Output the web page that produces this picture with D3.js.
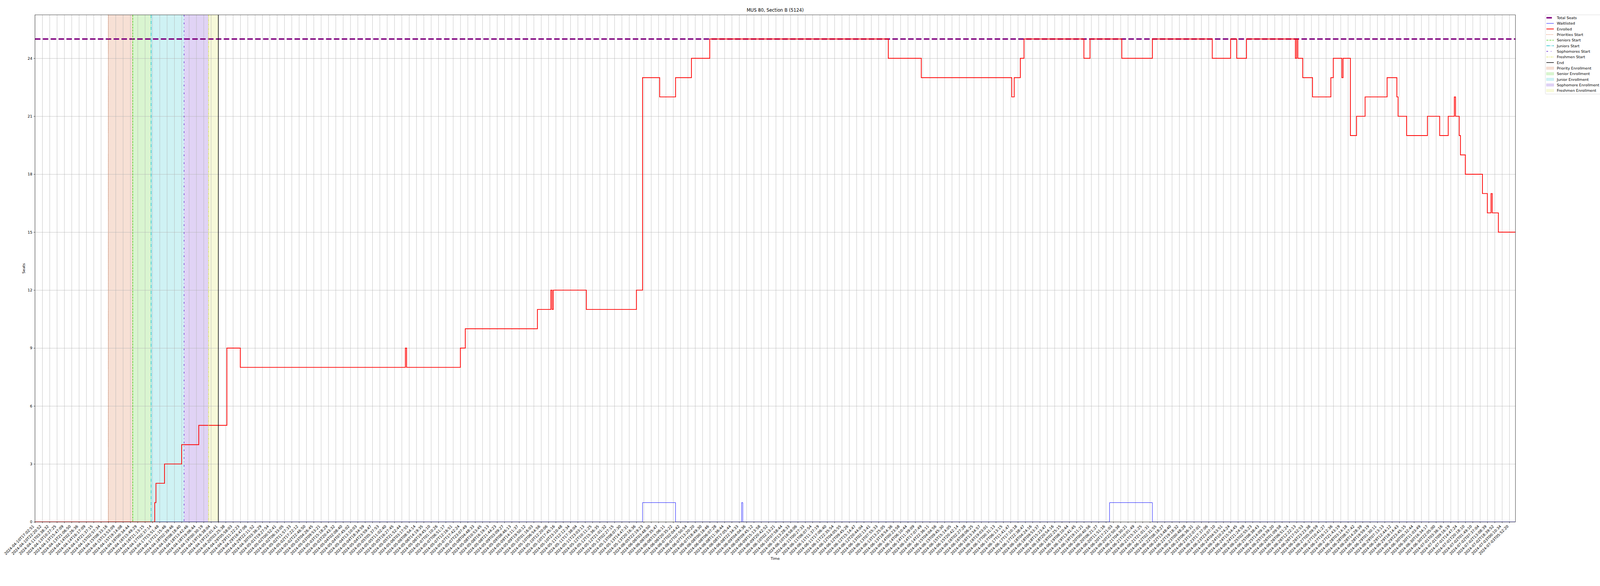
<!DOCTYPE html>
<html>
<head>
<meta charset="utf-8">
<script src="https://cdn.jsdelivr.net/npm/d3@7"></script>
<style>
  html, body { margin: 0; padding: 0; background: #fff; overflow: hidden; }
  #chart svg { display: block; width: 100vw; height: 100vh; }
  text { font-family: "DejaVu Sans", sans-serif; }
</style>
</head>
<body>
<div id="chart"></div>
<script>
// tick labels, one every 6 samples
const tickLabels = [
  "2024-04-10T17:02:51","2024-04-10T22:20:52","2024-04-11T03:38:32","2024-04-13T10:27:25","2024-04-13T15:47:09",
  "2024-04-13T21:06:50","2024-04-14T02:26:36","2024-04-14T16:17:09","2024-04-14T21:37:15","2024-04-15T02:57:34",
  "2024-04-15T08:33:16","2024-04-15T13:53:09","2024-04-15T19:14:08","2024-04-16T00:34:44","2024-04-16T15:49:29",
  "2024-04-16T21:13:15","2024-04-17T02:37:14","2024-04-17T15:51:48","2024-04-17T21:15:46","2024-04-18T02:39:46",
  "2024-04-18T08:18:40","2024-04-18T13:42:46","2024-04-18T19:06:44","2024-04-19T00:30:19","2024-04-19T16:38:04",
  "2024-04-19T22:01:41","2024-04-20T03:25:38","2024-04-29T05:58:03","2024-04-29T11:22:23","2024-04-29T16:47:06",
  "2024-04-29T22:11:52","2024-04-30T03:36:29","2024-05-01T19:27:54","2024-05-02T00:52:41","2024-05-02T06:33:05",
  "2024-05-02T11:57:33","2024-05-02T17:22:12","2024-05-02T22:46:50","2024-05-03T04:26:45","2024-05-03T09:53:21",
  "2024-05-03T15:18:29","2024-05-03T20:43:32","2024-05-04T02:08:40","2024-05-04T07:45:02","2024-05-04T13:10:03",
  "2024-05-04T18:34:59","2024-05-04T23:59:47","2024-05-05T05:37:53","2024-05-05T11:02:40","2024-05-05T16:27:45",
  "2024-05-05T21:52:44","2024-05-06T03:17:55","2024-05-06T08:54:14","2024-05-06T14:19:35","2024-05-06T19:45:10",
  "2024-05-07T01:10:26","2024-05-07T06:51:17","2024-05-07T12:16:51","2024-05-07T17:42:24","2024-05-07T23:07:49",
  "2024-05-08T04:48:33","2024-05-08T10:53:45","2024-05-08T16:19:13","2024-05-08T21:44:23","2024-05-09T03:09:27",
  "2024-05-09T08:46:13","2024-05-09T14:11:37","2024-05-09T19:50:12","2024-05-10T01:16:03","2024-05-10T06:54:56",
  "2024-05-10T12:20:06","2024-05-10T17:45:16","2024-05-10T23:10:48","2024-05-11T12:12:34","2024-05-11T17:38:04",
  "2024-05-11T23:03:13","2024-05-12T10:11:25","2024-05-12T15:36:35","2024-05-12T21:01:32","2024-05-13T02:27:15",
  "2024-05-13T08:07:30","2024-05-13T14:47:31","2024-05-13T20:16:36","2024-06-05T22:19:23","2024-06-06T03:48:50",
  "2024-06-06T09:35:47","2024-06-06T15:06:11","2024-06-06T20:35:22","2024-06-07T02:04:42","2024-06-07T07:50:54",
  "2024-06-07T13:20:20","2024-06-07T18:49:30","2024-06-08T00:18:46","2024-06-08T06:07:28","2024-06-08T11:36:44",
  "2024-06-08T17:05:44","2024-06-08T22:34:33","2024-06-09T04:04:36","2024-06-09T09:45:12","2024-06-09T15:13:58",
  "2024-06-09T20:42:52","2024-06-10T02:13:21","2024-06-10T07:58:44","2024-06-10T13:28:33","2024-06-10T18:58:06",
  "2024-06-11T00:27:33","2024-06-11T06:07:54","2024-06-11T11:37:19","2024-06-11T17:06:40","2024-06-11T22:35:54",
  "2024-06-12T04:05:55","2024-06-12T09:45:26","2024-06-12T15:14:47","2024-06-12T20:44:04","2024-06-13T02:13:41",
  "2024-06-13T07:55:33","2024-06-13T13:25:05","2024-06-13T18:54:36","2024-06-14T00:23:58","2024-06-14T06:10:44",
  "2024-06-14T11:39:09","2024-06-14T17:07:49","2024-06-14T22:36:11","2024-06-15T04:04:56","2024-06-15T09:45:30",
  "2024-06-15T15:14:05","2024-06-15T20:42:14","2024-06-16T02:27:28","2024-06-16T08:06:25","2024-06-16T13:34:57",
  "2024-06-16T19:03:01","2024-06-17T00:31:13","2024-06-17T06:13:15","2024-06-17T11:41:47","2024-06-17T17:10:18",
  "2024-06-17T22:38:47","2024-06-18T04:24:16","2024-06-18T09:53:37","2024-06-18T15:23:47","2024-06-18T20:54:16",
  "2024-06-19T02:25:15","2024-06-19T08:10:44","2024-06-19T13:41:45","2024-06-19T19:11:21","2024-06-20T00:40:56",
  "2024-06-20T06:21:27","2024-06-20T11:51:16","2024-06-20T17:21:03","2024-06-20T22:50:38","2024-06-21T04:30:21",
  "2024-06-21T10:01:49","2024-06-21T15:31:25","2024-06-21T21:01:31","2024-06-22T02:31:55","2024-06-22T08:18:27",
  "2024-06-22T13:48:40","2024-06-22T19:18:32","2024-06-23T00:48:28","2024-06-23T06:36:31","2024-06-23T12:07:01",
  "2024-06-23T17:37:06","2024-06-23T23:07:10","2024-06-24T04:53:51","2024-06-24T10:24:24","2024-06-24T15:54:45",
  "2024-06-24T21:24:59","2024-06-25T02:55:23","2024-06-25T08:38:43","2024-06-25T14:09:15","2024-06-25T19:39:20",
  "2024-06-26T01:09:58","2024-06-26T06:51:24","2024-06-26T12:22:13","2024-06-26T17:52:53","2024-06-26T23:23:38",
  "2024-06-27T05:09:59","2024-06-27T10:41:27","2024-06-27T16:12:36","2024-06-27T21:43:19","2024-06-28T03:14:18",
  "2024-06-28T08:57:42","2024-06-28T14:28:39","2024-06-28T19:59:19","2024-06-29T01:30:11","2024-06-29T07:13:13",
  "2024-06-29T12:44:12","2024-06-29T18:14:43","2024-06-29T23:45:15","2024-06-30T05:32:44","2024-06-30T11:03:49",
  "2024-06-30T16:34:17","2024-06-30T22:05:00","2024-07-01T03:36:16","2024-07-01T09:16:19","2024-07-01T14:47:24",
  "2024-07-01T20:18:10","2024-07-02T01:49:10","2024-07-02T07:37:04","2024-07-02T13:08:39","2024-07-02T18:39:52",
  "2024-07-03T00:10:34","2024-07-03T05:52:20"
];
const samplesPerTick = 6;
const sampleCount = 1212;
const totalSeats = 25;
const yTicks = [0, 3, 6, 9, 12, 15, 18, 21, 24];

// [sample index, value] at each change
const enrolledSteps = [
  [0,0],[98,1],[99,2],[106,3],[120,4],[134,5],[157,9],[168,8],[303,9],[304,8],[348,9],[352,10],
  [411,11],[422,12],[423,11],[424,12],[451,11],[492,12],[497,23],[511,22],[524,23],[537,24],[552,25],
  [698,24],[725,23],[799,22],[801,23],[806,24],[809,25],[858,24],[863,25],[889,24],[914,25],[963,24],
  [978,25],[983,24],[991,25],[1031,24],[1032,25],[1033,24],[1037,23],[1045,22],[1060,23],[1062,24],
  [1069,23],[1070,24],[1076,20],[1081,21],[1088,22],[1106,23],[1114,22],[1115,21],[1122,20],[1139,21],
  [1149,20],[1156,21],[1161,22],[1162,21],[1165,20],[1166,19],[1170,18],[1184,17],[1188,16],[1191,17],
  [1192,16],[1197,15]
];
const waitlistedSteps = [[0,0],[497,1],[524,0],[578,1],[579,0],[879,1],[914,0]];

// enrollment phases (sample index of start)
const phaseStartNames = ["Priorities Start", "Seniors Start", "Juniors Start", "Sophomores Start", "Freshmen Start"];
const phaseSpanNames = ["Priority Enrollment", "Senior Enrollment", "Junior Enrollment", "Sophomore Enrollment", "Freshmen Enrollment"];
const phaseStarts = [60, 80, 95, 122, 142];
const phaseEnd = 150;
const phaseColors = ["#d9652f", "#41cc14", "#0fbec8", "#6423cd", "#d7e141"];
const phaseDashes = ["2.1,3.4", "7.7,3.3", "13.3,3.3,2.1,3.3", "6.2,10.4,2.1,10.4", "6.2,2.1,2.1,2.1,2.1,2.1"];

// figure is 6000 wide; height follows the window so the axes keep their figure fractions
const W = 6000;
const vw = window.innerWidth || 6000, vh = window.innerHeight || 1500;
const H = Math.max(1500, W * vh / vw);
const margin = { left: 131, right: W - 5683, top: H * 38 / 1500, bottom: H - H * 1336 / 1500 };
const pw = W - margin.left - margin.right;
const ph = H - margin.top - margin.bottom;

const svg = d3.select("#chart").append("svg")
  .attr("viewBox", `0 0 ${W} ${H}`)
  .attr("preserveAspectRatio", "xMinYMin meet");

const x = d3.scaleLinear().domain([0, sampleCount - 1]).range([margin.left, margin.left + pw]);
const y = d3.scaleLinear().domain([0, totalSeats * 1.05]).range([margin.top + ph, margin.top]);

svg.append("defs").append("clipPath").attr("id", "plot")
  .append("rect").attr("x", margin.left).attr("y", margin.top).attr("width", pw).attr("height", ph);

// spans
const spanBounds = phaseStarts.map((s, i) => [s, i < phaseStarts.length - 1 ? phaseStarts[i + 1] : phaseEnd]);
svg.append("g").selectAll("rect").data(spanBounds).join("rect")
  .attr("x", d => x(d[0]))
  .attr("width", d => x(d[1]) - x(d[0]))
  .attr("y", margin.top).attr("height", ph)
  .attr("fill", (d, i) => phaseColors[i]).attr("fill-opacity", 0.2);

// grid
const tickVals = tickLabels.map((d, i) => i * samplesPerTick);
svg.append("g")
  .attr("transform", `translate(0,${margin.top + ph})`)
  .call(d3.axisBottom(x).tickValues(tickVals).tickSize(-ph).tickFormat(""))
  .call(g => g.select(".domain").remove())
  .call(g => g.selectAll("line").attr("stroke", "#b0b0b0").attr("stroke-width", 1.1));
svg.append("g")
  .attr("transform", `translate(${margin.left},0)`)
  .call(d3.axisLeft(y).tickValues(yTicks).tickSize(-pw).tickFormat(""))
  .call(g => g.select(".domain").remove())
  .call(g => g.selectAll("line").attr("stroke", "#b0b0b0").attr("stroke-width", 1.1));

const plot = svg.append("g").attr("clip-path", "url(#plot)");

const stepLine = d3.line().x(d => x(d[0])).y(d => y(d[1])).curve(d3.curveStepAfter);
const withEnd = s => s.concat([[sampleCount - 1, s[s.length - 1][1]]]);

plot.append("path")
  .attr("d", d3.line().x(d => x(d[0])).y(d => y(d[1]))([[0, totalSeats], [sampleCount - 1, totalSeats]]))
  .attr("fill", "none").attr("stroke", "purple").attr("stroke-width", 5.56)
  .attr("stroke-dasharray", "20.6,8.9");

plot.append("path").attr("d", stepLine(withEnd(waitlistedSteps)))
  .attr("fill", "none").attr("stroke", "blue").attr("stroke-width", 1.4);

plot.append("path").attr("d", stepLine(withEnd(enrolledSteps)))
  .attr("fill", "none").attr("stroke", "red").attr("stroke-width", 2.78);

plot.selectAll(".phase").data(phaseStarts).join("line")
  .attr("class", "phase")
  .attr("x1", d => x(d)).attr("x2", d => x(d))
  .attr("y1", margin.top).attr("y2", margin.top + ph)
  .attr("stroke", (d, i) => phaseColors[i]).attr("stroke-width", 2.08)
  .attr("stroke-dasharray", (d, i) => phaseDashes[i]);

plot.append("line")
  .attr("x1", x(phaseEnd)).attr("x2", x(phaseEnd))
  .attr("y1", margin.top).attr("y2", margin.top + ph)
  .attr("stroke", "black").attr("stroke-width", 2.08);

// axes
svg.append("g")
  .attr("transform", `translate(0,${margin.top + ph})`)
  .call(d3.axisBottom(x).tickValues(tickVals).tickSize(4.9).tickFormat((d, i) => tickLabels[i]))
  .call(g => g.select(".domain").remove())
  .call(g => g.selectAll("line").attr("stroke", "black").attr("stroke-width", 1.1))
  .call(g => g.selectAll("text")
    .attr("y", null).attr("dy", null)
    .attr("text-anchor", "end")
    .attr("font-size", 13.9).attr("font-family", "DejaVu Sans").attr("fill", "black")
    .attr("transform", "translate(-2.5,17.5) rotate(-45)"));

svg.append("g")
  .attr("transform", `translate(${margin.left},0)`)
  .call(d3.axisLeft(y).tickValues(yTicks).tickSize(4.9).tickPadding(4.9))
  .call(g => g.select(".domain").remove())
  .call(g => g.selectAll("line").attr("stroke", "black").attr("stroke-width", 1.1))
  .call(g => g.selectAll("text").attr("font-size", 13.9).attr("font-family", "DejaVu Sans").attr("fill", "black"));

svg.append("rect")
  .attr("x", margin.left).attr("y", margin.top).attr("width", pw).attr("height", ph)
  .attr("fill", "none").attr("stroke", "black").attr("stroke-width", 1.1);

// titles
svg.append("text").attr("x", margin.left + pw / 2).attr("y", margin.top - 11)
  .attr("text-anchor", "middle").attr("font-size", 16.7).text("MUS 80, Section B (5124)");
svg.append("text").attr("x", margin.left + pw / 2).attr("y", margin.top + ph + 142)
  .attr("text-anchor", "middle").attr("font-size", 13.9).text("Time");
svg.append("text")
  .attr("transform", `translate(94,${margin.top + ph / 2}) rotate(-90)`)
  .attr("text-anchor", "middle").attr("font-size", 13.9).text("Seats");

// legend
const legendItems = [
  { name: "Total Seats", type: "line", color: "purple", width: 5.56, dash: "20.6,8.9" },
  { name: "Waitlisted", type: "line", color: "blue", width: 1.4, dash: null },
  { name: "Enrolled", type: "line", color: "red", width: 2.78, dash: null }
].concat(phaseStartNames.map((n, i) => ({ name: n, type: "line", color: phaseColors[i], width: 2.08, dash: phaseDashes[i] })))
 .concat([{ name: "End", type: "line", color: "black", width: 2.08, dash: null }])
 .concat(phaseSpanNames.map((n, i) => ({ name: n, type: "patch", color: phaseColors[i] })));

const lg = svg.append("g").attr("transform", `translate(5795,${margin.top})`);
lg.append("rect").attr("width", 212).attr("height", 297).attr("rx", 3)
  .attr("fill", "white").attr("fill-opacity", 0.8).attr("stroke", "#cccccc").attr("stroke-width", 1.1);
const rows = lg.selectAll(".row").data(legendItems).join("g")
  .attr("class", "row")
  .attr("transform", (d, i) => `translate(4,${11 + i * 21})`);
rows.filter(d => d.type === "line").append("line")
  .attr("x1", 0).attr("x2", 27.8).attr("y1", 0).attr("y2", 0)
  .attr("stroke", d => d.color).attr("stroke-width", d => d.width)
  .attr("stroke-dasharray", d => d.dash);
rows.filter(d => d.type === "patch").append("rect")
  .attr("x", 0).attr("y", -4.9).attr("width", 27.8).attr("height", 9.7)
  .attr("fill", d => d.color).attr("fill-opacity", 0.2)
  .attr("stroke", d => d.color).attr("stroke-opacity", 0.2);
rows.append("text").attr("x", 39).attr("y", 5).attr("font-size", 13.9).text(d => d.name);
</script>
</body>
</html>
